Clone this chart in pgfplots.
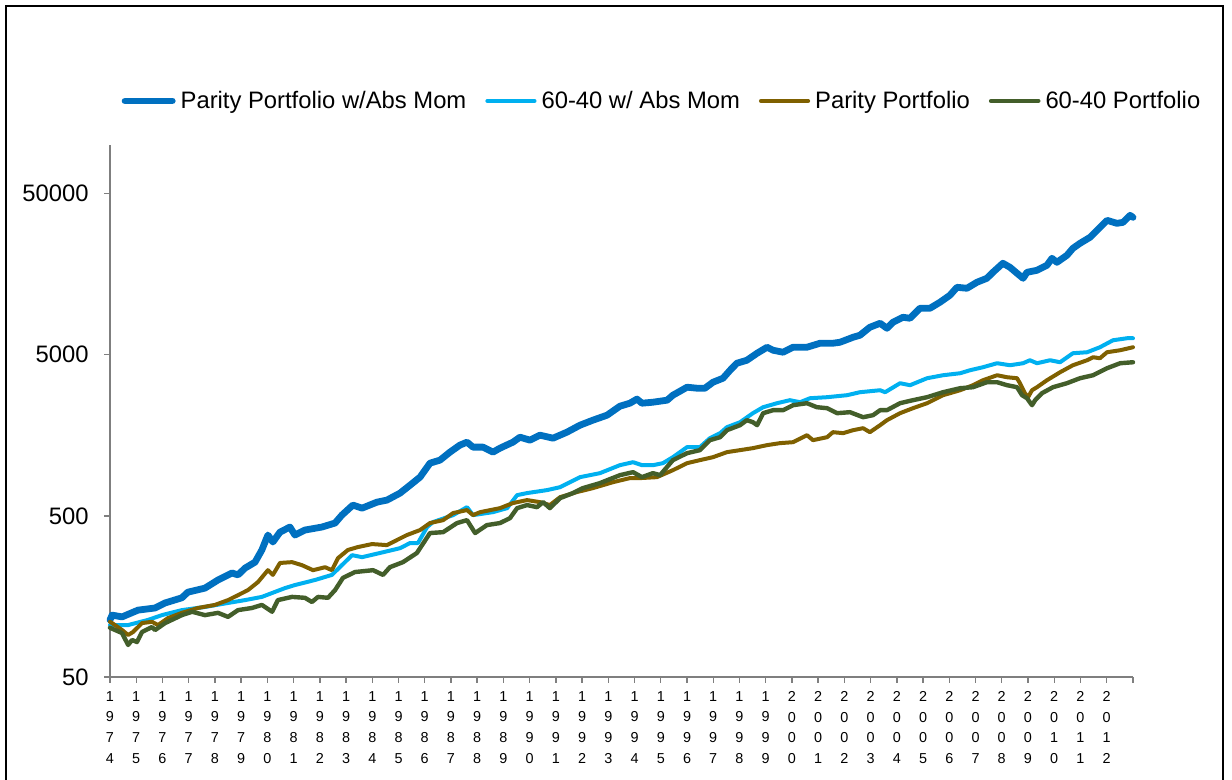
\documentclass[border=0pt]{standalone}
\usepackage{pgfplots}
\pgfplotsset{compat=1.18}
\usepackage{fontspec}
\setmainfont{Liberation Sans}
\definecolor{cBlue}{HTML}{0070C0}
\definecolor{cLight}{HTML}{00B0F0}
\definecolor{cBrown}{HTML}{7F6000}
\definecolor{cGreen}{HTML}{435E2A}
\definecolor{cAxis}{HTML}{7F7F7F}
\begin{document}
\begin{tikzpicture}
\useasboundingbox (0,0) rectangle (616pt,390pt);
\draw[line width=1pt] (3pt,-5pt) -- (3pt,387pt) -- (611.5pt,387pt) -- (611.5pt,-5pt);
\begin{axis}[
  at={(55pt,51.5pt)}, anchor=south west,
  scale only axis, width=511.5pt, height=266pt,
  xmin=1974, xmax=2013,
  ymode=log, ymin=50, ymax=100000,
  clip=false,
  axis lines*=left,
  axis line style={cAxis, line width=0.7pt, -},
  tick style={cAxis, line width=0.7pt},
  tick align=outside,
  major tick length=3pt,
  xtick={1974,...,2013},
  xticklabels={{1\\9\\7\\4},{1\\9\\7\\5},{1\\9\\7\\6},{1\\9\\7\\7},{1\\9\\7\\8},{1\\9\\7\\9},{1\\9\\8\\0},{1\\9\\8\\1},{1\\9\\8\\2},{1\\9\\8\\3},{1\\9\\8\\4},{1\\9\\8\\5},{1\\9\\8\\6},{1\\9\\8\\7},{1\\9\\8\\8},{1\\9\\8\\9},{1\\9\\9\\0},{1\\9\\9\\1},{1\\9\\9\\2},{1\\9\\9\\3},{1\\9\\9\\4},{1\\9\\9\\5},{1\\9\\9\\6},{1\\9\\9\\7},{1\\9\\9\\8},{1\\9\\9\\9},{2\\0\\0\\0},{2\\0\\0\\1},{2\\0\\0\\2},{2\\0\\0\\3},{2\\0\\0\\4},{2\\0\\0\\5},{2\\0\\0\\6},{2\\0\\0\\7},{2\\0\\0\\8},{2\\0\\0\\9},{2\\0\\1\\0},{2\\0\\1\\1},{2\\0\\1\\2},{}},
  xticklabel style={align=center, font=\fontsize{7.2}{10.3}\selectfont, anchor=north, inner sep=0pt, yshift=-4pt},
  ytick={50,500,5000,50000},
  yticklabels={50,500,5000,50000},
  yminorticks=false,
  yticklabel style={font=\fontsize{11.9}{14}\selectfont, anchor=east, inner sep=0pt, xshift=-7.5pt},
  /pgf/number format/assume math mode=true,
  legend columns=4,
  legend style={at={(0.5386,1.0827)}, anchor=center, draw=none, fill=none,
    font=\fontsize{11.9}{14}\selectfont, column sep=0pt,
    nodes={inner sep=0pt},
    /tikz/every odd column/.append style={column sep=2.5pt},
    /tikz/every even column/.append style={column sep=9.5pt}},
  legend image code/.code={\draw[#1, line cap=round] (1.2pt,0pt) -- (24.8pt,0pt);},
  every axis plot/.append style={line join=round, line cap=round},
]
\addplot[cBlue, line width=3.4pt] table {
1974.00 113
1974.08 121
1974.46 118
1975.07 130
1975.72 134
1976.10 144
1976.74 155
1976.97 168
1977.62 178
1978.12 200
1978.65 221
1978.88 215
1979.15 237
1979.53 258
1979.79 307
1980.02 380
1980.21 344
1980.48 396
1980.86 426
1981.05 380
1981.43 408
1982.08 426
1982.58 451
1982.84 505
1983.26 583
1983.61 558
1984.18 608
1984.56 626
1985.06 692
1985.44 775
1985.82 869
1986.20 1061
1986.58 1108
1986.96 1242
1987.34 1373
1987.61 1432
1987.84 1334
1988.22 1334
1988.60 1242
1988.87 1315
1989.36 1432
1989.63 1538
1990.01 1474
1990.39 1583
1990.89 1516
1991.42 1652
1991.92 1826
1992.41 1961
1992.95 2106
1993.44 2394
1993.82 2499
1994.09 2650
1994.28 2499
1994.70 2535
1995.24 2609
1995.46 2802
1996.00 3141
1996.38 3096
1996.68 3096
1996.99 3373
1997.37 3571
1997.64 4003
1997.90 4424
1998.28 4617
1998.67 5103
1999.05 5559
1999.28 5326
1999.66 5176
2000.04 5559
2000.57 5559
2001.07 5886
2001.56 5886
2001.83 5970
2002.33 6412
2002.59 6598
2002.97 7396
2003.36 7831
2003.62 7292
2003.85 7943
2004.23 8531
2004.50 8410
2004.88 9701
2005.26 9701
2005.64 10570
2006.02 11680
2006.29 13090
2006.67 12910
2007.05 14060
2007.43 14890
2007.66 16220
2008.04 18450
2008.31 17420
2008.58 15990
2008.81 14890
2008.96 16220
2009.34 16690
2009.72 17930
2009.91 19810
2010.10 18710
2010.48 20670
2010.71 22850
2010.98 24540
2011.36 26730
2011.63 29540
2012.01 34080
2012.39 32650
2012.62 33110
2012.89 36590
2013.00 35560
};
\addlegendentry{Parity Portfolio w/Abs Mom}
\addplot[cLight, line width=2pt] table {
1974.00 105
1974.69 105
1975.45 113
1975.98 121
1976.74 130
1977.62 136
1978.50 144
1979.15 150
1979.79 157
1980.18 166
1980.67 178
1981.05 186
1981.82 200
1982.46 215
1982.84 247
1983.23 285
1983.61 277
1984.29 294
1985.06 315
1985.44 339
1985.74 339
1986.09 426
1986.31 457
1987.08 505
1987.61 566
1987.84 505
1988.60 527
1989.14 558
1989.52 672
1989.90 692
1990.66 722
1991.16 753
1991.54 809
1991.92 869
1992.68 920
1993.44 1031
1993.94 1076
1994.28 1031
1994.70 1031
1995.08 1061
1995.46 1156
1996.00 1334
1996.49 1334
1996.87 1516
1997.26 1629
1997.52 1774
1998.02 1905
1998.51 2167
1998.90 2360
1999.43 2499
1999.92 2609
2000.31 2535
2000.69 2684
2001.34 2723
2002.10 2802
2002.59 2924
2003.36 3008
2003.55 2924
2004.12 3325
2004.50 3232
2005.15 3571
2005.76 3727
2006.41 3835
2006.79 4003
2007.28 4178
2007.82 4424
2008.31 4299
2008.81 4424
2009.07 4617
2009.34 4424
2009.84 4617
2010.22 4487
2010.71 5103
2011.25 5176
2011.74 5559
2012.24 6144
2012.77 6322
2013.00 6322
};
\addlegendentry{60-40 w/ Abs Mom}
\addplot[cBrown, line width=2pt] table {
1974.00 110
1974.08 108
1974.46 97.8
1974.69 91.1
1974.88 95.1
1975.22 108
1975.60 110
1975.83 105
1976.21 116
1976.74 125
1977.35 134
1978.00 140
1978.50 150
1978.88 161
1979.26 173
1979.64 194
1980.02 230
1980.21 215
1980.48 255
1980.94 258
1981.32 247
1981.74 230
1982.20 240
1982.46 230
1982.69 273
1983.07 307
1983.45 320
1983.99 334
1984.56 329
1984.79 344
1985.32 380
1985.82 408
1986.20 451
1986.70 470
1987.08 520
1987.61 543
1987.84 505
1988.11 527
1988.87 558
1989.36 600
1989.90 626
1990.39 608
1990.77 583
1991.16 653
1991.80 702
1992.41 743
1993.18 809
1993.82 857
1994.21 857
1994.85 869
1995.46 960
1996.00 1061
1996.49 1108
1996.99 1156
1997.52 1242
1998.02 1278
1998.51 1315
1999.05 1373
1999.54 1412
2000.04 1432
2000.57 1583
2000.80 1474
2001.34 1538
2001.56 1652
2001.95 1629
2002.33 1700
2002.71 1749
2002.97 1652
2003.36 1826
2003.62 1961
2004.12 2167
2004.61 2327
2005.15 2499
2005.76 2802
2006.41 3008
2006.90 3232
2007.28 3470
2007.82 3727
2008.20 3622
2008.58 3571
2008.69 3325
2008.88 2883
2009.00 2723
2009.15 3008
2009.34 3141
2009.72 3470
2010.22 3890
2010.71 4299
2011.25 4617
2011.48 4819
2011.74 4751
2012.01 5176
2012.51 5326
2013.00 5559
};
\addlegendentry{Parity Portfolio}
\addplot[cGreen, line width=2.2pt] table {
1974.00 101
1974.46 93.7
1974.69 79.0
1974.84 84.8
1975.03 82.4
1975.22 95.1
1975.60 102
1975.72 97.8
1976.10 108
1976.74 121
1977.13 127
1977.62 121
1978.12 125
1978.50 118
1978.88 130
1979.41 134
1979.79 140
1980.18 127
1980.40 150
1980.94 157
1981.43 155
1981.70 146
1981.93 157
1982.31 155
1982.58 173
1982.88 206
1983.34 224
1984.03 230
1984.41 215
1984.67 240
1985.17 258
1985.70 294
1986.20 391
1986.70 396
1987.23 451
1987.61 470
1987.92 391
1988.37 438
1988.87 451
1989.25 484
1989.52 558
1989.90 583
1990.28 566
1990.51 608
1990.77 558
1991.16 644
1991.65 692
1992.03 743
1992.68 798
1993.44 894
1993.94 933
1994.28 869
1994.70 920
1994.97 894
1995.46 1108
1996.00 1224
1996.49 1278
1996.87 1474
1997.26 1538
1997.52 1700
1998.02 1826
1998.28 1961
1998.51 1905
1998.67 1826
1998.90 2167
1999.28 2262
1999.66 2262
2000.04 2429
2000.57 2499
2000.95 2360
2001.34 2327
2001.72 2167
2002.21 2198
2002.71 2046
2003.09 2106
2003.36 2262
2003.62 2262
2004.12 2499
2004.61 2609
2005.15 2723
2005.76 2924
2006.41 3096
2006.90 3141
2007.43 3373
2007.82 3373
2008.20 3232
2008.58 3141
2008.77 2802
2008.96 2684
2009.15 2429
2009.27 2609
2009.53 2883
2009.95 3141
2010.48 3325
2010.98 3571
2011.48 3727
2012.01 4119
2012.51 4424
2013.00 4487
};
\addlegendentry{60-40 Portfolio}
\end{axis}
\end{tikzpicture}
\end{document}
